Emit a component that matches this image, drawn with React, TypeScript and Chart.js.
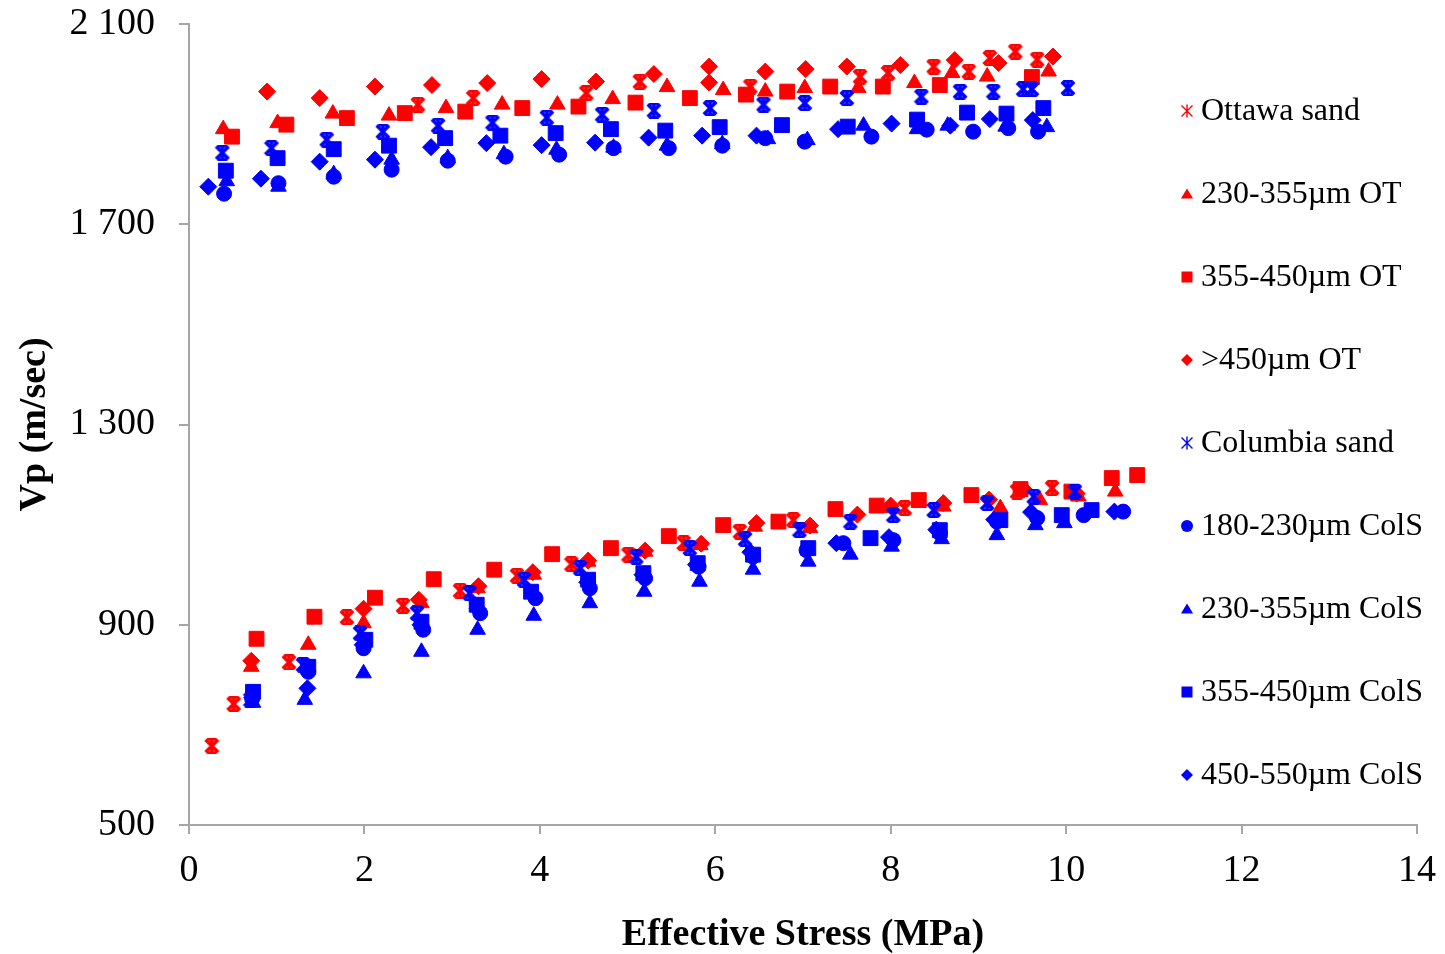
import React, { useEffect, useRef } from 'react';
import { Chart, registerables } from 'chart.js';

Chart.register(...registerables);

// ---------- Data ----------
const seriesNames = [
  'Ottawa sand',
  '230-355µm OT',
  '355-450µm OT',
  '>450µm OT',
  'Columbia sand',
  '180-230µm ColS',
  '230-355µm ColS',
  '355-450µm ColS',
  '450-550µm ColS',
];
const seriesColors = ['#FF0000', '#FF0000', '#FF0000', '#FF0000', '#0000FF', '#0000FF', '#0000FF', '#0000FF', '#0000FF'];
const seriesMarkers = ['asterisk', 'triangle', 'rect', 'rectRot', 'asterisk', 'circle', 'triangle', 'rect', 'rectRot'];

// Ottawa sand (red asterisk)
const ottawaX = [0.26, 0.51, 1.14, 1.8, 2.44, 3.09, 3.74, 4.36, 5.01, 5.64, 6.28, 6.89, 8.16, 9.44, 9.84,
  2.61, 3.24, 4.53, 5.14, 6.4, 7.65, 7.97, 8.49, 8.89, 9.13, 9.42, 9.67];
const ottawaY = [658, 742, 825, 915, 938, 968, 998, 1021, 1040, 1063, 1086, 1109, 1133, 1166, 1173,
  1939, 1952, 1962, 1985, 1975, 1995, 2002, 2015, 2005, 2032, 2045, 2029];

// 230-355µm OT (red triangle)
const ot230X = [0.71, 1.36, 1.99, 2.65, 3.29, 3.93, 4.55, 5.2, 5.83, 6.45, 7.08, 7.99, 8.6, 9.25, 9.7, 10.14, 10.56,
  0.39, 1.01, 1.64, 2.28, 2.93, 3.57, 4.2, 4.83, 5.45, 6.09, 6.57, 7.02, 7.63, 8.27, 8.7, 9.1, 9.8];
const ot230Y = [816, 860, 903, 943, 973, 1000, 1026, 1046, 1059, 1096, 1093, 1133, 1136, 1133, 1149, 1156, 1166,
  1890, 1902, 1921, 1917, 1932, 1939, 1939, 1950, 1974, 1968, 1965, 1972, 1972, 1982, 2002, 1995, 2005];

// 355-450µm OT (red square)
const ot355X = [0.77, 1.43, 2.12, 2.79, 3.48, 4.14, 4.81, 5.47, 6.09, 6.72, 7.37, 7.84, 8.32, 8.92, 9.48, 10.06, 10.52, 10.81,
  0.49, 1.11, 1.8, 2.46, 3.15, 3.8, 4.44, 5.09, 5.71, 6.35, 6.82, 7.31, 7.91, 8.56, 9.61];
const ot355Y = [872, 916, 954, 991, 1010, 1041, 1053, 1077, 1099, 1106, 1131, 1138, 1149, 1159, 1171, 1166, 1193, 1199,
  1875, 1899, 1912, 1922, 1925, 1932, 1935, 1943, 1952, 1959, 1965, 1975, 1975, 1978, 1994];

// >450µm OT (red diamond)
const ot450X = [0.71, 1.99, 2.62, 3.3, 3.92, 4.55, 5.2, 5.84, 6.47, 7.08, 7.62, 8.0, 8.6, 9.12, 9.52, 10.12,
  0.89, 1.49, 2.12, 2.77, 3.4, 4.02, 4.64, 5.3, 5.93, 5.93, 6.57, 7.03, 7.5, 8.11, 8.73, 9.23, 9.85];
const ot450Y = [828, 932, 950, 977, 1005, 1028, 1048, 1062, 1103, 1098, 1120, 1138, 1143, 1150, 1170, 1162,
  1965, 1952, 1975, 1978, 1982, 1990, 1985, 2000, 2015, 1983, 2005, 2010, 2015, 2018, 2028, 2022, 2035];

// Columbia sand (blue asterisk)
const columbiaX = [0.7, 1.3, 1.95, 2.6, 3.2, 3.82, 4.46, 5.1, 5.71, 6.34, 6.96, 7.54, 8.03, 8.49, 9.1, 9.63, 10.1,
  0.38, 0.94, 1.57, 2.21, 2.84, 3.46, 4.08, 4.71, 5.3, 5.94, 6.55, 7.02, 7.5, 8.35, 8.79, 9.17, 9.51, 9.61, 10.02];
const columbiaY = [750, 820, 883, 923, 963, 990, 1013, 1036, 1053, 1071, 1089, 1106, 1119, 1129, 1143, 1156, 1166,
  1843, 1852, 1869, 1885, 1897, 1903, 1913, 1919, 1927, 1932, 1939, 1942, 1952, 1955, 1965, 1965, 1970, 1970, 1972];

// 180-230µm ColS (blue circle)
const col180X = [0.72, 1.36, 1.99, 2.67, 3.32, 3.95, 4.57, 5.2, 5.81, 6.43, 7.04, 7.46, 8.03, 8.56, 9.21, 9.67, 10.2, 10.65,
  0.4, 1.02, 1.65, 2.31, 2.95, 3.61, 4.22, 4.84, 5.47, 6.08, 6.57, 7.02, 7.78, 8.41, 8.94, 9.34, 9.68];
const col180Y = [752, 806, 853, 890, 923, 953, 973, 993, 1016, 1036, 1049, 1063, 1069, 1083, 1106, 1113, 1119, 1126,
  1761, 1782, 1795, 1809, 1827, 1835, 1839, 1852, 1852, 1857, 1872, 1865, 1875, 1889, 1885, 1892, 1885];

// 230-355µm ColS (blue triangle)
const col230X = [0.73, 1.32, 1.99, 2.65, 3.29, 3.93, 4.57, 5.19, 5.82, 6.43, 7.06, 7.54, 8.01, 8.58, 9.21, 9.65, 9.98,
  0.43, 1.02, 1.65, 2.31, 2.95, 3.59, 4.19, 4.84, 5.45, 6.08, 6.6, 7.05, 7.69, 8.3, 8.65, 9.31, 9.78];
const col230Y = [744, 750, 803, 846, 890, 918, 943, 966, 986, 1010, 1026, 1040, 1056, 1071, 1079, 1099, 1103,
  1786, 1775, 1800, 1829, 1832, 1840, 1849, 1853, 1857, 1860, 1870, 1868, 1897, 1890, 1897, 1895, 1894];

// 355-450µm ColS (blue square)
const col355X = [0.73, 1.36, 2.01, 2.65, 3.28, 3.9, 4.55, 5.18, 5.8, 6.43, 7.06, 7.77, 8.56, 9.25, 9.95, 10.29,
  0.42, 1.01, 1.65, 2.28, 2.92, 3.55, 4.18, 4.81, 5.43, 6.05, 6.76, 7.51, 8.3, 8.87, 9.32, 9.74];
const col355Y = [766, 816, 870, 906, 940, 966, 990, 1003, 1023, 1040, 1053, 1073, 1089, 1109, 1119, 1129,
  1807, 1832, 1850, 1857, 1872, 1877, 1882, 1890, 1887, 1894, 1898, 1895, 1909, 1923, 1921, 1932];

// 450-550µm ColS (blue diamond)
const col450X = [0.72, 1.35, 1.98, 2.64, 3.29, 3.92, 4.54, 5.17, 5.78, 6.4, 7.38, 7.98, 8.52, 9.18, 9.6, 10.55,
  0.22, 0.82, 1.49, 2.12, 2.76, 3.39, 4.02, 4.63, 5.24, 5.85, 6.47, 7.4, 8.01, 8.68, 9.13, 9.62];
const col450Y = [754, 773, 860, 900, 932, 960, 985, 1000, 1020, 1045, 1063, 1075, 1090, 1110, 1125, 1126,
  1775, 1791, 1825, 1829, 1854, 1862, 1858, 1863, 1873, 1877, 1877, 1890, 1901, 1897, 1910, 1908];

const seriesX = [ottawaX, ot230X, ot355X, ot450X, columbiaX, col180X, col230X, col355X, col450X];
const seriesY = [ottawaY, ot230Y, ot355Y, ot450Y, columbiaY, col180Y, col230Y, col355Y, col450Y];

const xTickValues = [0, 2, 4, 6, 8, 10, 12, 14];
const yTickValues = [500, 900, 1300, 1700, 2100];

const xTitle = 'Effective Stress (MPa)';
const yTitle = 'Vp (m/sec)';

const SERIF = "'Liberation Serif', 'Times New Roman', serif";
const AXIS_GREY = '#A6A6A6';

function formatThousands(v: number): string {
  if (Math.abs(v) >= 1000) {
    const th = Math.floor(v / 1000);
    const rest = String(v % 1000).padStart(3, '0');
    return `${th} ${rest}`;
  }
  return String(v);
}

function makeAsterisk(color: string, size: number, lw: number): HTMLCanvasElement {
  const c = document.createElement('canvas');
  c.width = size;
  c.height = size;
  const g = c.getContext('2d')!;
  g.strokeStyle = color;
  g.lineWidth = lw;
  const m = lw / 2;
  g.beginPath();
  g.moveTo(m, m);
  g.lineTo(size - m, size - m);
  g.moveTo(size - m, m);
  g.lineTo(m, size - m);
  g.moveTo(size / 2, 0);
  g.lineTo(size / 2, size);
  g.stroke();
  g.lineWidth = lw * 0.8;
  g.beginPath();
  g.moveTo(size * 0.2, lw * 0.4);
  g.lineTo(size * 0.8, lw * 0.4);
  g.moveTo(size * 0.2, size - lw * 0.4);
  g.lineTo(size * 0.8, size - lw * 0.4);
  g.stroke();
  return c;
}

function drawMarker(ctx: CanvasRenderingContext2D, kind: string, x: number, y: number, s: number, color: string) {
  ctx.save();
  ctx.fillStyle = color;
  ctx.strokeStyle = color;
  ctx.beginPath();
  if (kind === 'asterisk') {
    ctx.lineWidth = 1.4;
    ctx.moveTo(x - s, y - s);
    ctx.lineTo(x + s, y + s);
    ctx.moveTo(x + s, y - s);
    ctx.lineTo(x - s, y + s);
    ctx.moveTo(x, y - s * 1.2);
    ctx.lineTo(x, y + s * 1.2);
    ctx.stroke();
  } else if (kind === 'triangle') {
    ctx.moveTo(x - s * 1.1, y + s * 0.8);
    ctx.lineTo(x, y - s * 1.0);
    ctx.lineTo(x + s * 1.1, y + s * 0.8);
    ctx.closePath();
    ctx.fill();
  } else if (kind === 'rect') {
    ctx.rect(x - s, y - s, 2 * s, 2 * s);
    ctx.fill();
  } else if (kind === 'rectRot') {
    ctx.moveTo(x - s, y);
    ctx.lineTo(x, y - s);
    ctx.lineTo(x + s, y);
    ctx.lineTo(x, y + s);
    ctx.closePath();
    ctx.fill();
  } else {
    ctx.arc(x, y, s, 0, Math.PI * 2);
    ctx.fill();
  }
  ctx.restore();
}

const overlayLegend = {
  id: 'overlayLegend',
  afterDraw(chart: any) {
    const ctx: CanvasRenderingContext2D = chart.ctx;
    const startY = 111;
    const step = 83;
    const markerX = 1187;
    const textX = 1201;
    ctx.save();
    ctx.font = `32px ${SERIF}`;
    ctx.textBaseline = 'middle';
    ctx.textAlign = 'left';
    seriesNames.forEach((name, i) => {
      const y = startY + i * step;
      const kind = seriesMarkers[i];
      const s = kind === 'rectRot' ? 6 : kind === 'asterisk' ? 5.5 : kind === 'circle' ? 6 : 5.5;
      drawMarker(ctx, kind, markerX, y, s, seriesColors[i]);
      ctx.fillStyle = '#000000';
      ctx.fillText(name, textX, y + 1);
    });
    ctx.restore();
  },
};

export default function App() {
  const canvasRef = useRef<HTMLCanvasElement | null>(null);

  useEffect(() => {
    if (!canvasRef.current) return;
    const radii: Record<string, number> = { triangle: 9, rect: 10.5, rectRot: 8.5, circle: 7.5, asterisk: 8 };
    const datasets = seriesNames.map((name, i) => {
      const kind = seriesMarkers[i];
      const color = seriesColors[i];
      const style: any = kind === 'asterisk' ? makeAsterisk(color, 16, 3.4) : kind;
      return {
        label: name,
        data: seriesX[i].map((x, j) => ({ x, y: seriesY[i][j] })),
        showLine: false,
        pointStyle: style,
        pointRadius: radii[kind],
        pointHoverRadius: radii[kind],
        pointBackgroundColor: color,
        pointBorderColor: color,
        pointBorderWidth: 1,
        backgroundColor: color,
        borderColor: color,
        order: -i,
      };
    });

    const chart = new Chart(canvasRef.current, {
      type: 'scatter',
      data: { datasets },
      options: {
        animation: false,
        responsive: true,
        maintainAspectRatio: false,
        layout: { padding: { left: 0, top: 24, right: 28, bottom: 0 } },
        plugins: {
          legend: { display: false },
          tooltip: { enabled: false },
        },
        scales: {
          x: {
            type: 'linear',
            min: 0,
            max: 14,
            afterBuildTicks: (scale: any) => {
              scale.ticks = xTickValues.map((v) => ({ value: v }));
            },
            afterFit: (scale: any) => {
              scale.height = 129;
              scale.paddingLeft = 0;
              scale.paddingRight = 0;
              scale.paddingTop = 0;
              scale.paddingBottom = 0;
            },
            ticks: {
              color: '#000000',
              font: { family: SERIF, size: 38 },
              padding: 14,
              maxRotation: 0,
              autoSkip: false,
            },
            grid: {
              drawOnChartArea: false,
              drawTicks: true,
              tickLength: 9,
              color: AXIS_GREY,
              lineWidth: 2,
            },
            border: { color: AXIS_GREY, width: 2 },
            title: {
              display: true,
              text: xTitle,
              color: '#000000',
              font: { family: SERIF, size: 38, weight: 'bold', lineHeight: 1 },
              padding: { top: 0, bottom: 0 },
            },
          },
          y: {
            type: 'linear',
            min: 500,
            max: 2100,
            afterBuildTicks: (scale: any) => {
              scale.ticks = yTickValues.map((v) => ({ value: v }));
            },
            afterFit: (scale: any) => {
              scale.width = 189;
              scale.paddingLeft = 0;
              scale.paddingRight = 0;
              scale.paddingTop = 0;
              scale.paddingBottom = 0;
            },
            ticks: {
              color: '#000000',
              font: { family: SERIF, size: 38 },
              padding: 24,
              autoSkip: false,
              callback: (v: any) => formatThousands(Number(v)),
            },
            grid: {
              drawOnChartArea: false,
              drawTicks: true,
              tickLength: 10,
              color: AXIS_GREY,
              lineWidth: 2,
            },
            border: { color: AXIS_GREY, width: 2 },
            title: {
              display: true,
              text: yTitle,
              color: '#000000',
              font: { family: SERIF, size: 38, weight: 'bold', lineHeight: 1 },
              padding: { top: 16, bottom: 0 },
            },
          },
        },
      },
      plugins: [overlayLegend],
    } as any);

    return () => {
      chart.destroy();
    };
  }, []);

  return (
    <div style={{ position: 'fixed', left: 0, top: 0, width: 1445, height: 954, background: '#ffffff' }}>
      <canvas ref={canvasRef} />
    </div>
  );
}
